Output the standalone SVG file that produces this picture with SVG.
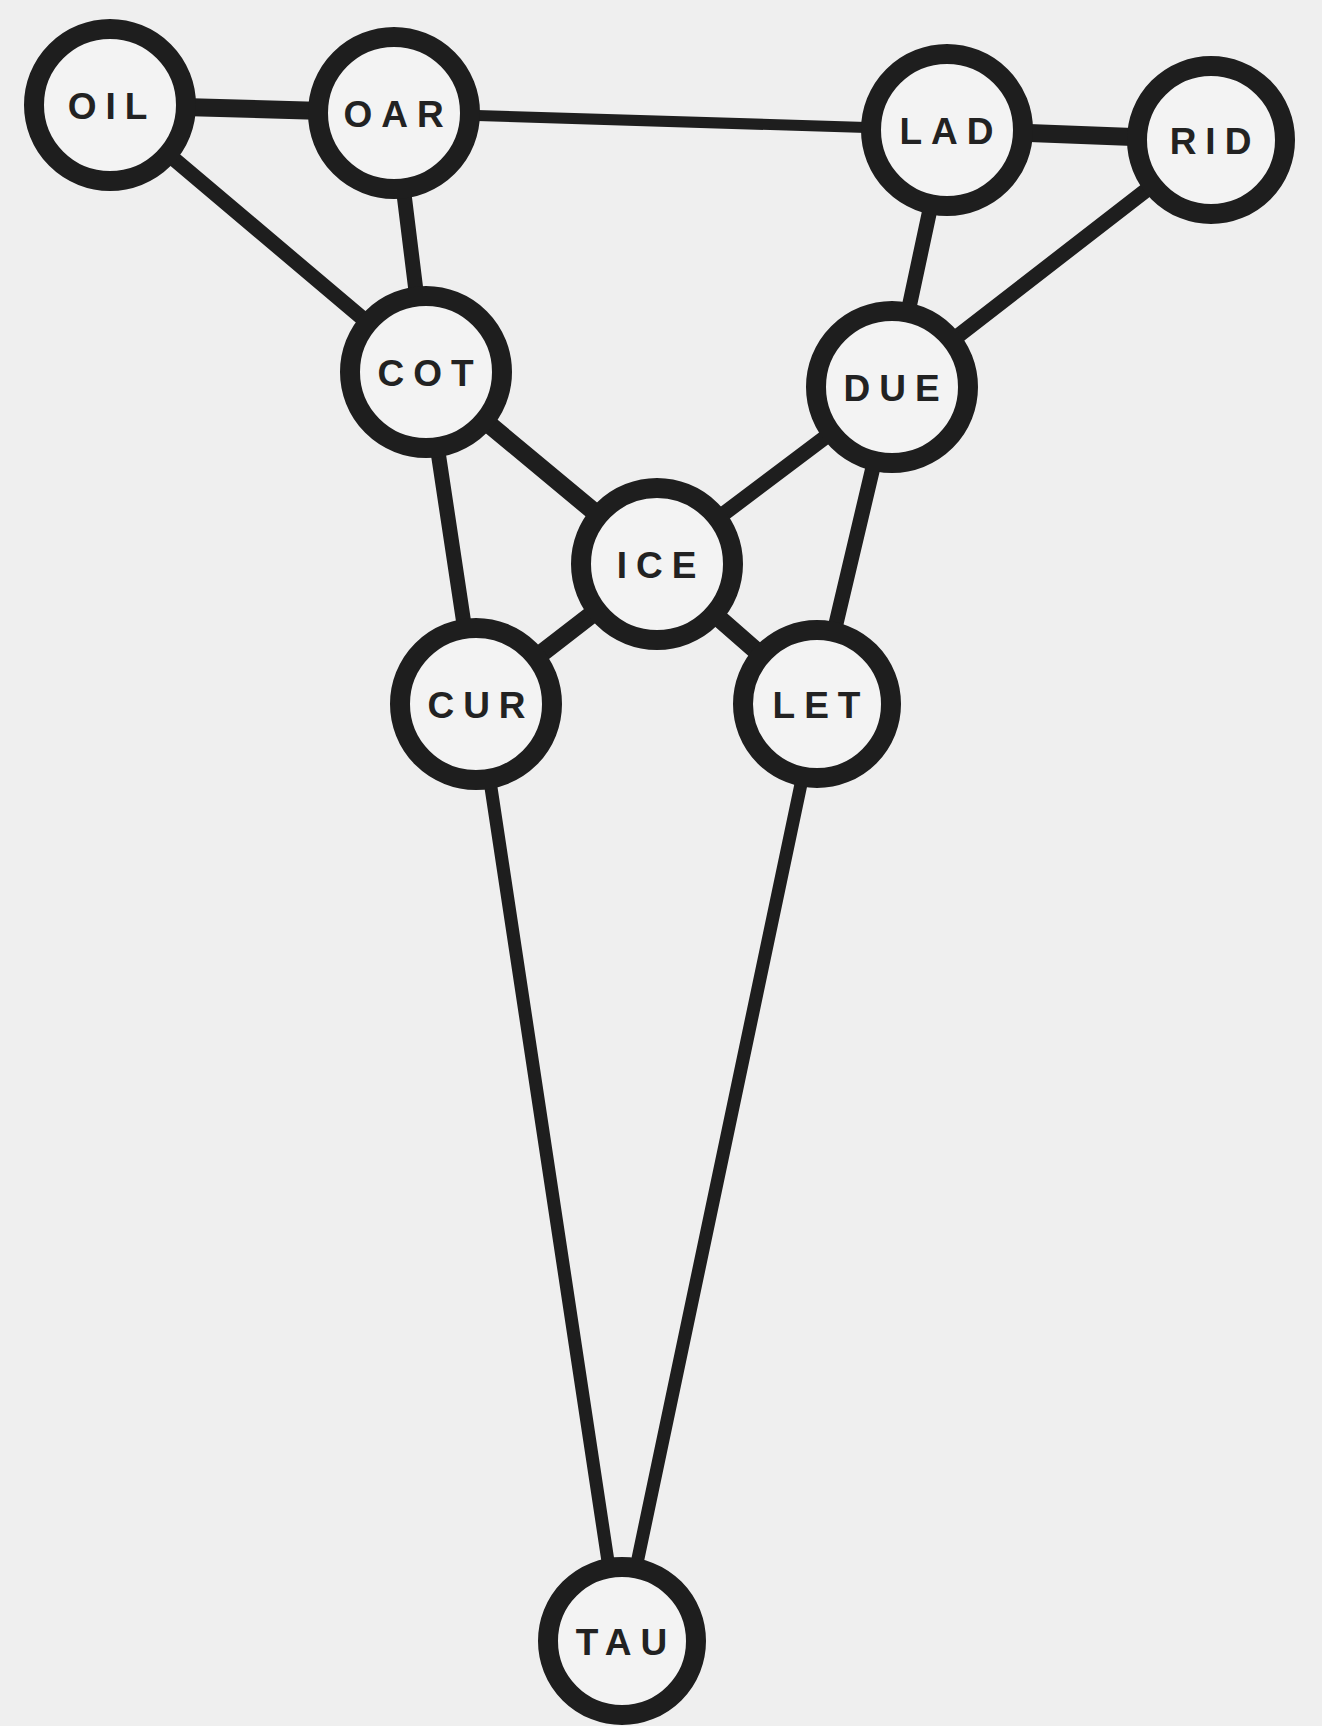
<svg xmlns="http://www.w3.org/2000/svg" width="1322" height="1726" viewBox="0 0 1322 1726">
<style>
.bg{fill:#efefef}
.node circle{fill:#f3f3f3;stroke:#1e1e1e;stroke-width:20}
.node text{font-family:"Liberation Sans",Arial,sans-serif;font-weight:bold;font-size:37px;letter-spacing:9px;fill:#222;text-anchor:middle}
.edges line{stroke:#1e1e1e;stroke-linecap:round}
.w{stroke-width:18}
.m{stroke-width:15}
.t{stroke-width:11}
.l{stroke-width:13}
</style>
<rect class="bg" x="0" y="0" width="1322" height="1726"/>
<g id="connectors" class="edges">
<line class="w" x1="110" y1="105" x2="394" y2="113"/>
<line class="t" x1="394" y1="113" x2="947" y2="130"/>
<line class="w" x1="947" y1="130" x2="1211" y2="140"/>
<line class="m" x1="110" y1="105" x2="426" y2="372"/>
<line class="m" x1="394" y1="113" x2="426" y2="372"/>
<line class="m" x1="947" y1="130" x2="892" y2="387"/>
<line class="m" x1="1211" y1="140" x2="892" y2="387"/>
<line class="w" x1="426" y1="372" x2="657" y2="564"/>
<line class="m" x1="892" y1="387" x2="657" y2="564"/>
<line class="m" x1="426" y1="372" x2="476" y2="704"/>
<line class="w" x1="657" y1="564" x2="476" y2="704"/>
<line class="w" x1="657" y1="564" x2="817" y2="704"/>
<line class="m" x1="892" y1="387" x2="817" y2="704"/>
<line class="l" x1="490" y1="781" x2="609" y2="1568"/>
<line class="l" x1="801" y1="784" x2="636" y2="1568"/>
</g>
<g id="node-OIL" class="node"><circle cx="110" cy="105" r="76"/><text x="112" y="119">OIL</text></g>
<g id="node-OAR" class="node"><circle cx="394" cy="113" r="76"/><text x="398" y="127">OAR</text></g>
<g id="node-LAD" class="node"><circle cx="947" cy="130" r="76"/><text x="951" y="144">LAD</text></g>
<g id="node-RID" class="node"><circle cx="1211" cy="140" r="74"/><text x="1215" y="154">RID</text></g>
<g id="node-COT" class="node"><circle cx="426" cy="372" r="76"/><text x="430" y="386">COT</text></g>
<g id="node-DUE" class="node"><circle cx="892" cy="387" r="76"/><text x="896" y="401">DUE</text></g>
<g id="node-ICE" class="node"><circle cx="657" cy="564" r="76"/><text x="661" y="578">ICE</text></g>
<g id="node-CUR" class="node"><circle cx="476" cy="704" r="76"/><text x="481" y="718">CUR</text></g>
<g id="node-LET" class="node"><circle cx="817" cy="704" r="74"/><text x="821" y="718">LET</text></g>
<g id="node-TAU" class="node"><circle cx="622" cy="1641" r="74"/><text x="626" y="1655">TAU</text></g>
</svg>
